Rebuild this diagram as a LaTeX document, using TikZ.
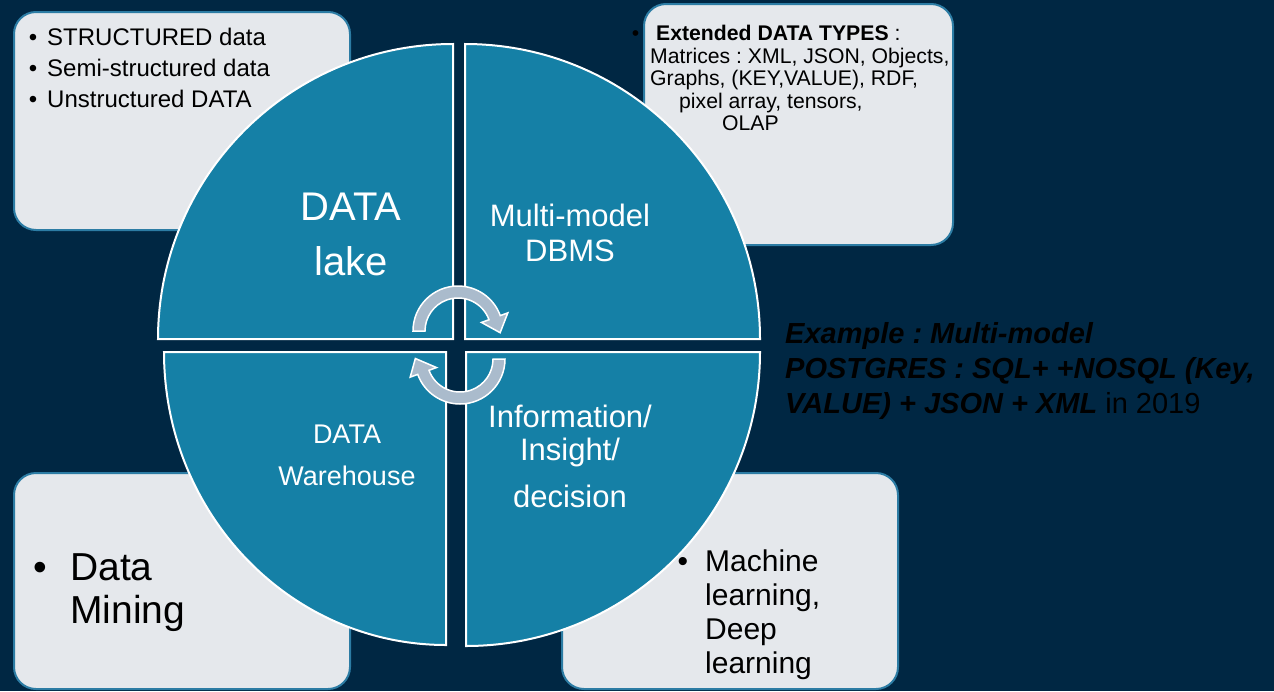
\documentclass[tikz,border=0pt]{standalone}
\usepackage{fontspec}
\setmainfont{Liberation Sans}
\usetikzlibrary{calc}
\frenchspacing

\definecolor{navybg}{RGB}{0,39,67}
\definecolor{quadteal}{RGB}{21,128,166}
\definecolor{boxgray}{RGB}{229,232,236}
\definecolor{boxline}{RGB}{44,124,164}
\definecolor{arrowgray}{RGB}{170,187,204}

\newcommand{\bulletmark}[1]{\llap{•\hspace{#1}}}

\begin{document}
\begin{tikzpicture}[x=1pt,y=-1pt]
    \tikzstyle{every node}=[inner sep=0pt]
    \tikzstyle{infobox}=[fill=boxgray, draw=boxline, line width=2pt, rounded corners=22pt]
    \tikzstyle{quarter}=[fill=quadteal, draw=white, line width=2pt]
    \tikzstyle{cycarrow}=[fill=arrowgray, draw=white, line width=1.5pt]
    \tikzstyle{quadtext}=[text=white, align=center, anchor=north]
    \tikzstyle{boxtext}=[text=black, align=left, anchor=north west]

    \useasboundingbox (0,0) rectangle (1274,691);
    \fill[navybg] (0,0) rectangle (1274,691);

    % the four boxes
    \draw[infobox] (14,12) rectangle (350,230);
    \draw[infobox] (644,4) rectangle (953,245);
    \draw[infobox] (14,473) rectangle (350,689);
    \draw[infobox] (562,473) rectangle (898,689);

    % circle in four quarters
    \draw[quarter] (453,339) -- (158,339) arc[start angle=180, end angle=270, radius=295] -- cycle;
    \draw[quarter] (465,339) -- (465,44) arc[start angle=270, end angle=360, radius=295] -- cycle;
    \draw[quarter] (466,352) -- (760,352) arc[start angle=0, end angle=90, radius=294] -- cycle;
    \draw[quarter] (446,352) -- (446,645) arc[start angle=90, end angle=180, x radius=282, y radius=293] -- cycle;

    % round arrows
    \coordinate (toparr) at (458,331);
    \coordinate (botarr) at (460,359);
    \draw[cycarrow] ($(toparr)+(180:45)$) arc[start angle=180, end angle=340, radius=45]
        -- ($(toparr)+(340:53)$) -- ($(toparr)+(340:39)+(70:16)$) -- ($(toparr)+(340:25)$)
        -- ($(toparr)+(340:33)$) arc[start angle=340, end angle=180, radius=33] -- cycle;
    \draw[cycarrow] ($(botarr)+(0:45)$) arc[start angle=0, end angle=160, radius=45]
        -- ($(botarr)+(160:53)$) -- ($(botarr)+(160:39)+(240:16)$) -- ($(botarr)+(160:25)$)
        -- ($(botarr)+(160:33)$) arc[start angle=160, end angle=0, radius=33] -- cycle;

    \node[quadtext, font=\fontsize{40}{55}\selectfont] (lake) at (351,193) {DATA\\lake};
    \node[quadtext, font=\fontsize{31}{35}\selectfont] (dbms) at (570,204) {Multi-model\\DBMS};
    \node[quadtext, font=\fontsize{27}{42}\selectfont] (warehouse) at (347,425) {DATA\\Warehouse};
    \node[quadtext, font=\fontsize{31}{33}\selectfont] (insight) at (570,405) {Information/\\Insight/\\[14pt]decision};

    \node[boxtext, font=\fontsize{24}{31}\selectfont] (kinds) at (47,28)
        {\bulletmark{10pt}STRUCTURED data\\\bulletmark{10pt}Semi-structured data\\\bulletmark{10pt}Unstructured DATA};
    \node[boxtext, font=\fontsize{21.2}{22.5}\selectfont] (types) at (650,25)
        {\bulletmark{11pt}\hspace*{6pt}\textbf{Extended DATA TYPES} :\\Matrices : XML, JSON, Objects,\\Graphs, (KEY,VALUE), RDF,\\\hspace*{29pt}pixel array, tensors,\\\hspace*{72pt}OLAP};
    \node[boxtext, font=\fontsize{39}{43}\selectfont] (mining) at (70,553) {\bulletmark{23pt}Data\\Mining};
    \node[boxtext, font=\fontsize{30}{34}\selectfont] (learning) at (705,550) {\bulletmark{17pt}Machine\\learning,\\Deep\\learning};
    \node[boxtext, font=\fontsize{29}{35}\selectfont] (postgres) at (785,322)
        {\textbf{\textit{Example : Multi-model}}\\\textbf{\textit{POSTGRES : SQL+ +NOSQL (Key,}}\\\textbf{\textit{VALUE) + JSON + XML}} in 2019};
\end{tikzpicture}
\end{document}
